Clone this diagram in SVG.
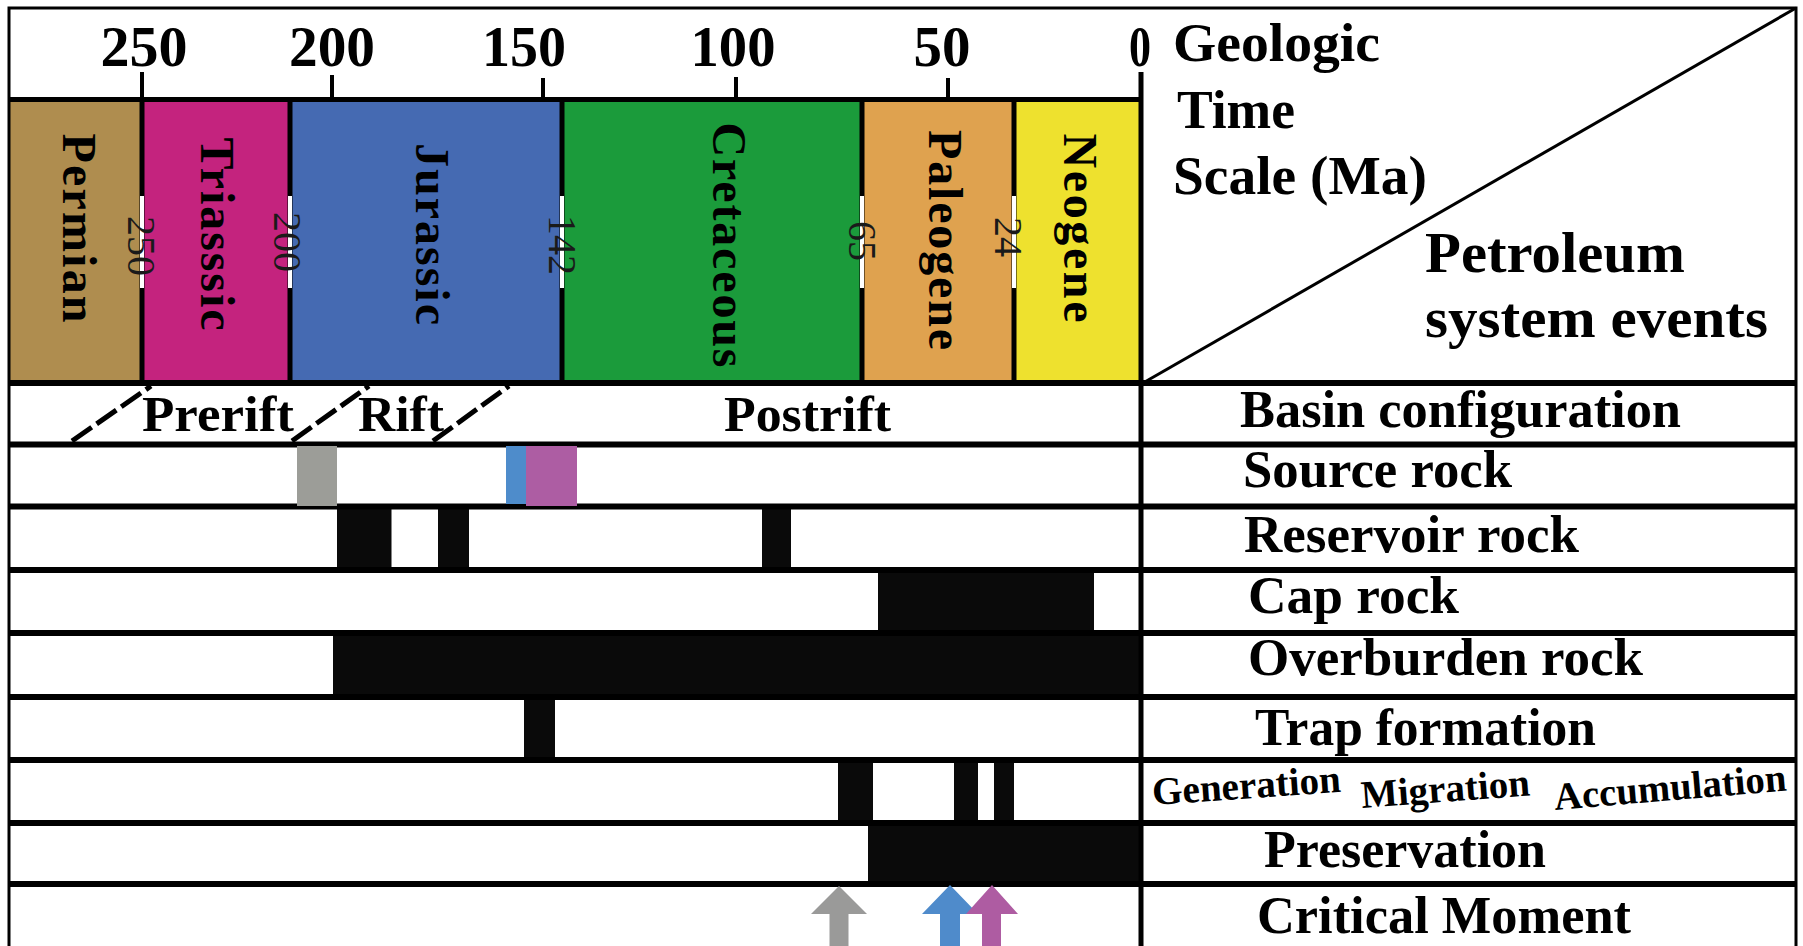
<svg xmlns="http://www.w3.org/2000/svg" width="1803" height="946" viewBox="0 0 1803 946">
<style>
text { font-family: "Liberation Serif", "Times New Roman", "DejaVu Serif", serif; fill: #000; }
.tick { font-size: 58px; font-weight: bold; text-anchor: middle; }
.per { font-size: 48px; font-weight: bold; text-anchor: middle; dominant-baseline: central; }
.age { font-size: 40px; text-anchor: middle; dominant-baseline: central; fill: #1a1a1a; }
.hdr { font-size: 55px; font-weight: bold; }
.hdr2 { font-size: 58px; font-weight: bold; }
.lab { font-size: 52px; font-weight: bold; }
.phase { font-size: 50px; font-weight: bold; }
.small { font-size: 39px; font-weight: bold; }
.tk { stroke: #000; stroke-width: 4; }
.bd { stroke: #000; stroke-width: 5; }
.gap { fill: #fff; }
.rl { stroke: #000; stroke-width: 6; }
.bar { fill: #0a0a0a; }
.dash { stroke: #000; stroke-width: 5; stroke-dasharray: 24 6; fill: none; }
</style>
<rect x="0" y="0" width="1803" height="946" fill="#fff"/>

<g id="time-scale">
  <text class="tick" x="144" y="66" textLength="87" lengthAdjust="spacingAndGlyphs">250</text>
  <text class="tick" x="332" y="66" textLength="86" lengthAdjust="spacingAndGlyphs">200</text>
  <text class="tick" x="524" y="66" textLength="84" lengthAdjust="spacingAndGlyphs">150</text>
  <text class="tick" x="733" y="66" textLength="85" lengthAdjust="spacingAndGlyphs">100</text>
  <text class="tick" x="942" y="66" textLength="57" lengthAdjust="spacingAndGlyphs">50</text>
  <text class="tick" x="1140" y="66" textLength="22" lengthAdjust="spacingAndGlyphs">0</text>
  <line class="tk" x1="142" y1="72" x2="142" y2="99"/>
  <line class="tk" x1="332" y1="75" x2="332" y2="99"/>
  <line class="tk" x1="543" y1="78" x2="543" y2="99"/>
  <line class="tk" x1="736" y1="77" x2="736" y2="99"/>
  <line class="tk" x1="948" y1="78" x2="948" y2="99"/>
</g>

<g id="periods">
  <g id="permian">
    <rect x="9" y="99" width="133" height="284" fill="#AF8D4F"/>
    <text class="per" transform="translate(79,228) rotate(90)" textLength="189" lengthAdjust="spacing">Permian</text>
  </g>
  <g id="triassic">
    <rect x="142" y="99" width="148" height="284" fill="#C4237E"/>
    <text class="per" transform="translate(217,234) rotate(90)" textLength="193" lengthAdjust="spacing">Triasssic</text>
  </g>
  <g id="jurassic">
    <rect x="290" y="99" width="272" height="284" fill="#456AB2"/>
    <text class="per" transform="translate(432,234) rotate(90)" textLength="182" lengthAdjust="spacing">Jurassic</text>
  </g>
  <g id="cretaceous">
    <rect x="562" y="99" width="300" height="284" fill="#1B9B3B"/>
    <text class="per" transform="translate(729,245) rotate(90)" textLength="245" lengthAdjust="spacing">Cretaceous</text>
  </g>
  <g id="paleogene">
    <rect x="862" y="99" width="152" height="284" fill="#DFA24F"/>
    <text class="per" transform="translate(945,240) rotate(90)" textLength="220" lengthAdjust="spacing">Paleogene</text>
  </g>
  <g id="neogene">
    <rect x="1014" y="99" width="127" height="284" fill="#EEE12E"/>
    <text class="per" transform="translate(1080,228) rotate(90)" textLength="189" lengthAdjust="spacing">Neogene</text>
  </g>
  <g id="boundaries">
    <line class="bd" x1="9" y1="99.5" x2="1141" y2="99.5"/>
    <line class="bd" x1="142" y1="99" x2="142" y2="383"/>
    <line class="bd" x1="290" y1="99" x2="290" y2="383"/>
    <line class="bd" x1="562" y1="99" x2="562" y2="383"/>
    <line class="bd" x1="862" y1="99" x2="862" y2="383"/>
    <line class="bd" x1="1014" y1="99" x2="1014" y2="383"/>
    <rect class="gap" x="140" y="196" width="4" height="92"/>
    <rect class="gap" x="288" y="196" width="4" height="92"/>
    <rect class="gap" x="560" y="196" width="4" height="92"/>
    <rect class="gap" x="860" y="196" width="4" height="92"/>
    <rect class="gap" x="1012" y="196" width="4" height="92"/>
    <text class="age" transform="translate(141,246) rotate(90)">250</text>
    <text class="age" transform="translate(287,242) rotate(90)">200</text>
    <text class="age" transform="translate(562,245) rotate(90)">142</text>
    <text class="age" transform="translate(862,241) rotate(90)">65</text>
    <text class="age" transform="translate(1008,237) rotate(90)">24</text>
  </g>
</g>

<g id="header-right">
  <text class="hdr" x="1173" y="61" textLength="207" lengthAdjust="spacingAndGlyphs">Geologic</text>
  <text class="hdr" x="1177" y="128" textLength="118" lengthAdjust="spacingAndGlyphs">Time</text>
  <text class="hdr" x="1173" y="194" textLength="254" lengthAdjust="spacingAndGlyphs">Scale (Ma)</text>
  <text class="hdr2" x="1425" y="272" textLength="260" lengthAdjust="spacingAndGlyphs">Petroleum</text>
  <text class="hdr2" x="1425" y="337" textLength="343" lengthAdjust="spacingAndGlyphs">system events</text>
</g>

<g id="bars">
  <rect class="bar" x="337" y="506.5" width="54.5" height="63.5"/>
  <rect class="bar" x="438" y="506.5" width="31" height="63.5"/>
  <rect class="bar" x="762" y="506.5" width="29" height="63.5"/>
  <rect class="bar" x="878" y="570" width="216" height="63"/>
  <rect class="bar" x="333" y="633" width="808" height="64"/>
  <rect class="bar" x="524" y="697" width="31" height="63"/>
  <rect class="bar" x="838" y="760" width="35" height="63"/>
  <rect class="bar" x="954" y="760" width="24" height="63"/>
  <rect class="bar" x="994" y="760" width="20" height="63"/>
  <rect class="bar" x="868" y="823" width="273" height="61"/>
</g>

<g id="row-lines">
  <line class="rl" x1="9" y1="383" x2="1796" y2="383"/>
  <line class="rl" x1="9" y1="444.5" x2="1796" y2="444.5"/>
  <line class="rl" x1="9" y1="506.5" x2="1796" y2="506.5"/>
  <line class="rl" x1="9" y1="570" x2="1796" y2="570"/>
  <line class="rl" x1="9" y1="633" x2="1796" y2="633"/>
  <line class="rl" x1="9" y1="697" x2="1796" y2="697"/>
  <line class="rl" x1="9" y1="760" x2="1796" y2="760"/>
  <line class="rl" x1="9" y1="823" x2="1796" y2="823"/>
  <line class="rl" x1="9" y1="884" x2="1796" y2="884"/>
</g>

<g id="source-bars">
  <rect x="297" y="446" width="40" height="60" fill="#9C9D98"/>
  <rect x="506" y="446" width="20" height="58" fill="#4E8CCB"/>
  <rect x="526" y="446" width="51" height="60" fill="#AD5DA3"/>
</g>

<g id="row-basin">
  <text class="phase" x="142" y="431" textLength="152" lengthAdjust="spacingAndGlyphs">Prerift</text>
  <text class="phase" x="358" y="431" textLength="86" lengthAdjust="spacingAndGlyphs">Rift</text>
  <text class="phase" x="724" y="431" textLength="167" lengthAdjust="spacingAndGlyphs">Postrift</text>
  <text class="lab" x="1240" y="427" textLength="441" lengthAdjust="spacingAndGlyphs">Basin configuration</text>
</g>
<g id="row-source"><text class="lab" x="1243" y="487" textLength="269" lengthAdjust="spacingAndGlyphs">Source rock</text></g>
<g id="row-reservoir"><text class="lab" x="1244" y="552" textLength="335" lengthAdjust="spacingAndGlyphs">Reservoir rock</text></g>
<g id="row-cap"><text class="lab" x="1248" y="613" textLength="211" lengthAdjust="spacingAndGlyphs">Cap rock</text></g>
<g id="row-overburden"><text class="lab" x="1248" y="675" textLength="395" lengthAdjust="spacingAndGlyphs">Overburden rock</text></g>
<g id="row-trap"><text class="lab" x="1255" y="745" textLength="341" lengthAdjust="spacingAndGlyphs">Trap formation</text></g>
<g id="row-gma">
  <text class="small" x="1153" y="805" transform="rotate(-4 1153 805)" textLength="189" lengthAdjust="spacingAndGlyphs">Generation</text>
  <text class="small" x="1362" y="808" transform="rotate(-4.3 1362 808)" textLength="169" lengthAdjust="spacingAndGlyphs">Migration</text>
  <text class="small" x="1555" y="810" transform="rotate(-4.8 1555 810)" textLength="233" lengthAdjust="spacingAndGlyphs">Accumulation</text>
</g>
<g id="row-preservation"><text class="lab" x="1264" y="867" textLength="282" lengthAdjust="spacingAndGlyphs">Preservation</text></g>
<g id="row-critical"><text class="lab" x="1257" y="933" textLength="374" lengthAdjust="spacingAndGlyphs">Critical Moment</text></g>

<g id="connectors">
  <line class="dash" x1="72" y1="441" x2="151" y2="386"/>
  <line class="dash" x1="292" y1="441" x2="369" y2="386"/>
  <line class="dash" x1="433" y1="441" x2="509" y2="386"/>
  <polygon points="839,886 867,914 848.5,914 848.5,950 829.5,950 829.5,914 811,914" fill="#9A9A99"/>
  <polygon points="950,885 978,914 960,914 960,950 940,950 940,914 922,914" fill="#4F8BCB"/>
  <polygon points="992,885 1018,914 1001,914 1001,950 982,950 982,914 966,914" fill="#AE5CA2"/>
</g>

<g id="frame">
  <rect x="9" y="8" width="1787" height="960" fill="none" stroke="#000" stroke-width="3"/>
  <line x1="1141" y1="72" x2="1141" y2="946" stroke="#000" stroke-width="5"/>
  <line x1="1143" y1="383" x2="1796" y2="8" stroke="#000" stroke-width="3"/>
</g>
</svg>
